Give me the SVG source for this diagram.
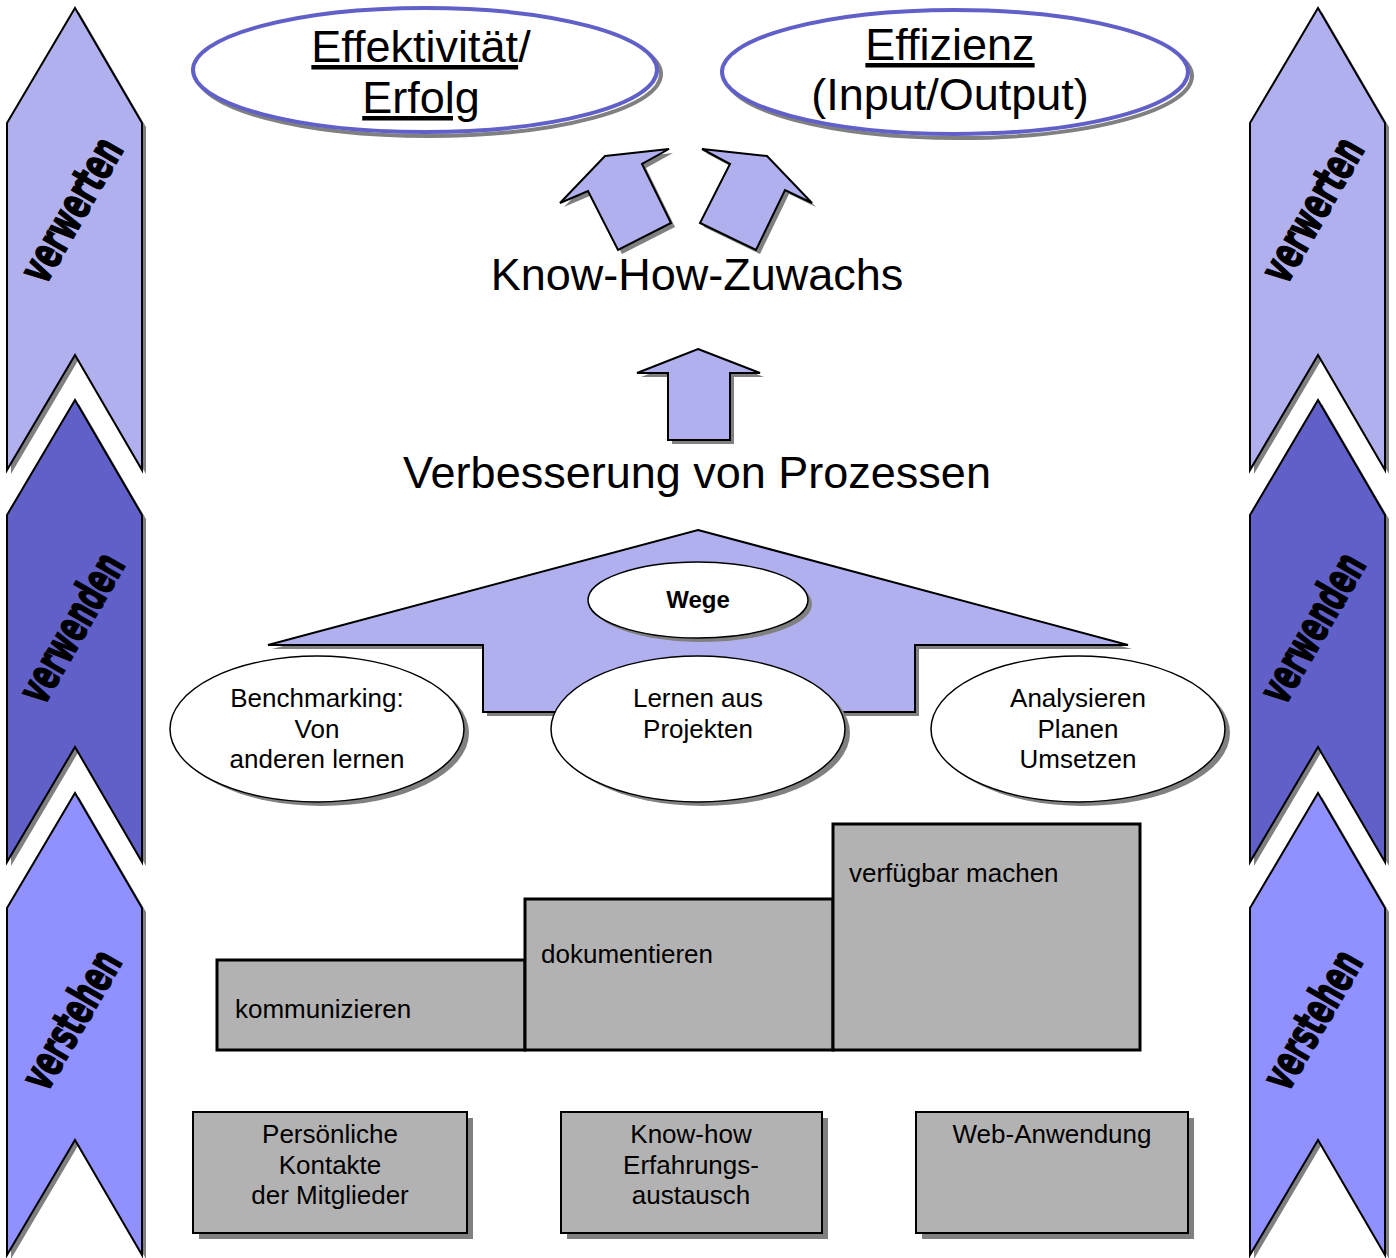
<svg xmlns="http://www.w3.org/2000/svg" width="1396" height="1258" viewBox="0 0 1396 1258">
<defs>
<style>
.t{font-family:"Liberation Sans",Arial,sans-serif;fill:#000}
.sh{fill:#808080;stroke:none}
.chev{stroke:#000;stroke-width:2;stroke-linejoin:miter}
.c1{fill:#B0B0EE}
.c2{fill:#6060C8}
.c3{fill:#9090FF}
.arr{fill:#B0B0EE;stroke:#000;stroke-width:2}
.ell{fill:#fff;stroke:#000;stroke-width:1.5}
.step{fill:#B2B2B2;stroke:#000;stroke-width:3}
.box{fill:#B2B2B2;stroke:#000;stroke-width:2}
.wa{font-family:"DejaVu Sans Condensed","Liberation Sans Narrow",sans-serif;font-weight:bold;font-size:46px;fill:#000;stroke:#000;stroke-width:1.5}
</style>
<polygon id="chevA" points="0,115 68,0 135,115 135,462 68,347 0,462"/>
</defs>
<rect width="1396" height="1258" fill="#fff"/>

<g id="left-verwerten">
<use href="#chevA" x="11" y="12" class="sh"/>
<use href="#chevA" x="7" y="8" class="chev c1"/>
<text class="wa" transform="translate(72,210) rotate(-60)" text-anchor="middle" dy="15" textLength="158" lengthAdjust="spacingAndGlyphs">verwerten</text>
</g>
<g id="left-verwenden">
<use href="#chevA" x="11" y="404" class="sh"/>
<use href="#chevA" x="7" y="400" class="chev c2"/>
<text class="wa" transform="translate(72,628) rotate(-60)" text-anchor="middle" dy="15" textLength="164" lengthAdjust="spacingAndGlyphs">verwenden</text>
</g>
<g id="left-verstehen">
<use href="#chevA" x="11" y="797" class="sh"/>
<use href="#chevA" x="7" y="793" class="chev c3"/>
<text class="wa" transform="translate(72,1020) rotate(-60)" text-anchor="middle" dy="15" textLength="152" lengthAdjust="spacingAndGlyphs">verstehen</text>
</g>

<g id="right-verwerten">
<use href="#chevA" x="1254" y="12" class="sh"/>
<use href="#chevA" x="1250" y="8" class="chev c1"/>
<text class="wa" transform="translate(1313,210) rotate(-60)" text-anchor="middle" dy="15" textLength="158" lengthAdjust="spacingAndGlyphs">verwerten</text>
</g>
<g id="right-verwenden">
<use href="#chevA" x="1254" y="404" class="sh"/>
<use href="#chevA" x="1250" y="400" class="chev c2"/>
<text class="wa" transform="translate(1313,628) rotate(-60)" text-anchor="middle" dy="15" textLength="164" lengthAdjust="spacingAndGlyphs">verwenden</text>
</g>
<g id="right-verstehen">
<use href="#chevA" x="1254" y="797" class="sh"/>
<use href="#chevA" x="1250" y="793" class="chev c3"/>
<text class="wa" transform="translate(1313,1020) rotate(-60)" text-anchor="middle" dy="15" textLength="152" lengthAdjust="spacingAndGlyphs">verstehen</text>
</g>

<g id="effektivitaet">
<ellipse cx="429" cy="74" rx="232" ry="62" fill="none" stroke="#808080" stroke-width="4"/>
<ellipse cx="425" cy="70" rx="232" ry="62" fill="#fff" stroke="#6060C8" stroke-width="4"/>
<text class="t" font-size="45" text-anchor="middle" x="421" y="62"><tspan text-decoration="underline">Effektivität</tspan>/</text>
<text class="t" font-size="45" text-anchor="middle" x="421" y="113" text-decoration="underline">Erfolg</text>
</g>
<g id="effizienz">
<ellipse cx="959" cy="76" rx="233" ry="62" fill="none" stroke="#808080" stroke-width="4"/>
<ellipse cx="955" cy="72" rx="233" ry="62" fill="#fff" stroke="#6060C8" stroke-width="4"/>
<text class="t" font-size="45" text-anchor="middle" x="950" y="60" text-decoration="underline">Effizienz</text>
<text class="t" font-size="45" text-anchor="middle" x="950" y="110">(Input/Output)</text>
</g>

<g id="connectors">
<polygon class="sh" transform="translate(4,4)" points="605,156 669,149 642,164 671,223 618,250 588,191 560,203"/>
<polygon class="arr" points="605,156 669,149 642,164 671,223 618,250 588,191 560,203"/>
<polygon class="sh" transform="translate(4,4)" points="767,156 702,149 730,164 700,223 756,250 785,190 812,203"/>
<polygon class="arr" points="767,156 702,149 730,164 700,223 756,250 785,190 812,203"/>
<polygon class="sh" transform="translate(4,4)" points="698,349 760,373 730,373 730,440 668,440 668,373 637,373"/>
<polygon class="arr" points="698,349 760,373 730,373 730,440 668,440 668,373 637,373"/>
</g>

<g id="know-how-zuwachs">
<text class="t" font-size="45" text-anchor="middle" x="697" y="290">Know-How-Zuwachs</text>
</g>
<g id="verbesserung">
<text class="t" font-size="45" text-anchor="middle" x="697" y="488">Verbesserung von Prozessen</text>
</g>

<g id="wege-arrow">
<polygon class="sh" transform="translate(4,4)" points="698,530 1128,645 915,645 915,712 483,712 483,645 268,645"/>
<polygon class="arr" points="698,530 1128,645 915,645 915,712 483,712 483,645 268,645"/>
</g>
<g id="wege">
<ellipse class="sh" cx="702" cy="604" rx="110" ry="38"/>
<ellipse class="ell" cx="698" cy="600" rx="110" ry="38"/>
<text class="t" font-size="24" font-weight="bold" text-anchor="middle" x="698" y="608">Wege</text>
</g>

<g id="benchmarking">
<ellipse class="sh" cx="322" cy="733" rx="147" ry="73"/>
<ellipse class="ell" cx="317" cy="729" rx="147" ry="73"/>
<text class="t" font-size="26" text-anchor="middle" x="317" y="707">Benchmarking:</text>
<text class="t" font-size="26" text-anchor="middle" x="317" y="738">Von</text>
<text class="t" font-size="26" text-anchor="middle" x="317" y="768">anderen lernen</text>
</g>
<g id="lernen">
<ellipse class="sh" cx="703" cy="733" rx="147" ry="73"/>
<ellipse class="ell" cx="698" cy="729" rx="147" ry="73"/>
<text class="t" font-size="26" text-anchor="middle" x="698" y="707">Lernen aus</text>
<text class="t" font-size="26" text-anchor="middle" x="698" y="738">Projekten</text>
</g>
<g id="analysieren">
<ellipse class="sh" cx="1083" cy="733" rx="147" ry="73"/>
<ellipse class="ell" cx="1078" cy="729" rx="147" ry="73"/>
<text class="t" font-size="26" text-anchor="middle" x="1078" y="707">Analysieren</text>
<text class="t" font-size="26" text-anchor="middle" x="1078" y="738">Planen</text>
<text class="t" font-size="26" text-anchor="middle" x="1078" y="768">Umsetzen</text>
</g>

<g id="kommunizieren">
<rect class="step" x="217" y="960" width="308" height="90"/>
<text class="t" font-size="26" x="235" y="1018">kommunizieren</text>
</g>
<g id="dokumentieren">
<rect class="step" x="525" y="899" width="308" height="151"/>
<text class="t" font-size="26" x="541" y="963">dokumentieren</text>
</g>
<g id="verfuegbar">
<rect class="step" x="833" y="824" width="307" height="226"/>
<text class="t" font-size="26" x="849" y="882">verfügbar machen</text>
</g>

<g id="persoenliche">
<rect class="sh" x="199" y="1118" width="274" height="121"/>
<rect class="box" x="193" y="1112" width="274" height="121"/>
<text class="t" font-size="26" text-anchor="middle" x="330" y="1143">Persönliche</text>
<text class="t" font-size="26" text-anchor="middle" x="330" y="1174">Kontakte</text>
<text class="t" font-size="26" text-anchor="middle" x="330" y="1204">der Mitglieder</text>
</g>
<g id="knowhow">
<rect class="sh" x="567" y="1118" width="261" height="121"/>
<rect class="box" x="561" y="1112" width="261" height="121"/>
<text class="t" font-size="26" text-anchor="middle" x="691" y="1143">Know-how</text>
<text class="t" font-size="26" text-anchor="middle" x="691" y="1174">Erfahrungs-</text>
<text class="t" font-size="26" text-anchor="middle" x="691" y="1204">austausch</text>
</g>
<g id="web">
<rect class="sh" x="922" y="1118" width="272" height="121"/>
<rect class="box" x="916" y="1112" width="272" height="121"/>
<text class="t" font-size="26" text-anchor="middle" x="1052" y="1143">Web-Anwendung</text>
</g>
</svg>
